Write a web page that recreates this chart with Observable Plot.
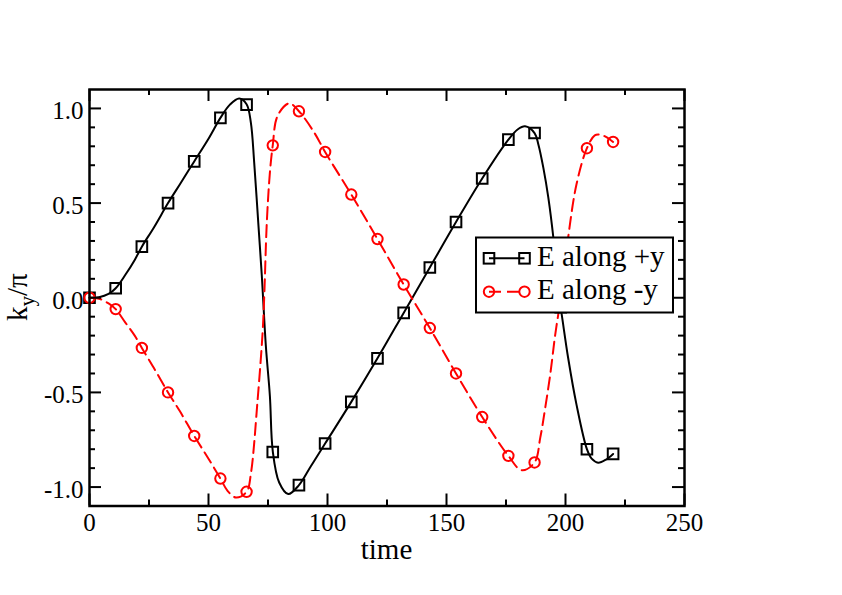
<!DOCTYPE html>
<html>
<head>
<meta charset="utf-8">
<script src="https://cdn.jsdelivr.net/npm/d3@7"></script>
<script src="https://cdn.jsdelivr.net/npm/@observablehq/plot@0.6"></script>
<style>
  html, body { margin: 0; padding: 0; background: #fff; }
</style>
</head>
<body>
<div id="chart"></div>
<script>
// ---- data ----
const markerTime = [0, 11, 22, 33, 44, 55, 66, 77, 88, 99, 110, 121, 132, 143, 154, 165, 176, 187, 198, 209, 220];
const markerPlusY = [0, 0.05, 0.27, 0.50, 0.72, 0.95, 1.02, -0.815, -0.99, -0.77, -0.55, -0.32, -0.08, 0.16, 0.40, 0.63, 0.835, 0.87, -0.05, -0.80, -0.825];
const markerMinusY = [0, -0.06, -0.265, -0.50, -0.73, -0.955, -1.025, 0.805, 0.985, 0.77, 0.545, 0.31, 0.07, -0.16, -0.40, -0.63, -0.835, -0.87, 0.0, 0.79, 0.823];

const curveTimePlus = [0, 4, 8, 11, 15, 19, 22, 27, 33, 38, 44, 50, 55, 59, 62.9, 66, 67.8, 69.2, 70.9, 72.4, 74.1, 75.8, 77, 79.7, 83.5, 88, 93, 99, 110, 121, 132, 143, 154, 165, 176, 180, 183, 187, 188.6, 190.7, 192.8, 194.9, 197.3, 198.4, 201.1, 204.6, 209, 211, 213.7, 217, 220];
const curvePlusY = [0, 0.003, 0.02, 0.05, 0.12, 0.2, 0.27, 0.37, 0.50, 0.6, 0.72, 0.84, 0.95, 1.02, 1.052, 1.022, 0.925, 0.714, 0.398, 0.116, -0.255, -0.52, -0.81, -0.976, -1.037, -0.99, -0.89, -0.77, -0.55, -0.32, -0.08, 0.16, 0.40, 0.63, 0.835, 0.89, 0.906, 0.87, 0.81, 0.686, 0.528, 0.317, 0.0, -0.088, -0.317, -0.563, -0.80, -0.85, -0.871, -0.855, -0.825];

const curveTimeMinus = [0, 4, 8, 11, 15, 19, 22, 27, 33, 38, 44, 50, 55, 58, 61.5, 66, 67.8, 70.6, 72.7, 73.4, 74.5, 75.8, 77, 79, 83.9, 88, 94.4, 99, 110, 121, 132, 143, 154, 165, 176, 181.6, 187, 189.4, 191.5, 193.6, 195.7, 198, 201.1, 204.6, 209, 212.3, 214.4, 217, 220];
const curveMinusY = [0, -0.005, -0.03, -0.06, -0.13, -0.2, -0.265, -0.37, -0.50, -0.6, -0.73, -0.85, -0.955, -1.02, -1.055, -1.025, -0.93, -0.545, -0.19, 0.0, 0.398, 0.662, 0.805, 0.96, 1.027, 0.985, 0.873, 0.77, 0.545, 0.31, 0.07, -0.16, -0.40, -0.63, -0.835, -0.911, -0.87, -0.739, -0.58, -0.404, -0.193, 0.0, 0.317, 0.598, 0.79, 0.858, 0.862, 0.85, 0.823];

const xMajorTicks = [0, 50, 100, 150, 200, 250];
const xMinorTicks = [25, 75, 125, 175, 225];
const yMajorTicks = [-1.0, -0.5, 0.0, 0.5, 1.0];
const yMinorTicks = [-0.9, -0.8, -0.7, -0.6, -0.4, -0.3, -0.2, -0.1, 0.1, 0.2, 0.3, 0.4, 0.6, 0.7, 0.8, 0.9];
const yTickLabels = ["-1.0", "-0.5", "0.0", "0.5", "1.0"];

const seriesNames = ["E along +y", "E along -y"];
const seriesColors = ["#000000", "#ff0000"];

// ---- tables ----
const markersPlus = markerTime.map((t, i) => ({t, v: markerPlusY[i]}));
const markersMinus = markerTime.map((t, i) => ({t, v: markerMinusY[i]}));
const linePlus = curveTimePlus.map((t, i) => ({t, v: curvePlusY[i]}));
const lineMinus = curveTimeMinus.map((t, i) => ({t, v: curveMinusY[i]}));

const W = 842, H = 595;
const mTop = 89, mBottom = 89.5, mLeft = 89, mRight = 158;
const innerW = W - mLeft - mRight, innerH = H - mTop - mBottom;
const majorLen = 12, minorLen = 6;
const font = "'Liberation Serif', 'Times New Roman', serif";

const svg = Plot.plot({
  width: W, height: H,
  marginTop: mTop, marginBottom: mBottom, marginLeft: mLeft, marginRight: mRight,
  style: {fontFamily: font, fontSize: "25px", background: "#fff", color: "#000"},
  x: {domain: [0, 250]},
  y: {domain: [-1.1, 1.1]},
  marks: [
    Plot.line(linePlus, {x: "t", y: "v", stroke: seriesColors[0], strokeWidth: 2, curve: "catmull-rom"}),
    Plot.line(lineMinus, {x: "t", y: "v", stroke: seriesColors[1], strokeWidth: 2, strokeDasharray: "12,6", curve: "catmull-rom"}),
    Plot.dot(markersPlus, {x: "t", y: "v", symbol: "square", r: 6, stroke: seriesColors[0], strokeWidth: 2, fill: "none"}),
    Plot.dot(markersMinus, {x: "t", y: "v", symbol: "circle", r: 5.2, stroke: seriesColors[1], strokeWidth: 2, fill: "none"}),
    // inward ticks on all four sides
    Plot.tickX(xMajorTicks, {x: d => d, insetTop: innerH - majorLen, stroke: "#000", strokeWidth: 2}),
    Plot.tickX(xMajorTicks, {x: d => d, insetBottom: innerH - majorLen, stroke: "#000", strokeWidth: 2}),
    Plot.tickX(xMinorTicks, {x: d => d, insetTop: innerH - minorLen, stroke: "#000", strokeWidth: 2}),
    Plot.tickX(xMinorTicks, {x: d => d, insetBottom: innerH - minorLen, stroke: "#000", strokeWidth: 2}),
    Plot.tickY(yMajorTicks, {y: d => d, insetRight: innerW - majorLen, stroke: "#000", strokeWidth: 2}),
    Plot.tickY(yMajorTicks, {y: d => d, insetLeft: innerW - majorLen, stroke: "#000", strokeWidth: 2}),
    Plot.tickY(yMinorTicks, {y: d => d, insetRight: innerW - minorLen, stroke: "#000", strokeWidth: 2}),
    Plot.tickY(yMinorTicks, {y: d => d, insetLeft: innerW - minorLen, stroke: "#000", strokeWidth: 2}),
    Plot.axisX(xMajorTicks, {tickSize: 0, tickPadding: 7, label: null, fontSize: 25, fontFamily: font, tickFormat: d => String(d)}),
    Plot.axisY(yMajorTicks, {tickSize: 0, tickPadding: 6, dy: 3, label: null, fontSize: 25, fontFamily: font, tickFormat: d => yTickLabels[yMajorTicks.indexOf(d)]}),
    Plot.frame({stroke: "#000", strokeWidth: 2.5})
  ]
});

const s = d3.select(svg);
// serif face and size on the Plot-generated tick labels
s.selectAll("text")
  .style("font-family", font).style("font-size", "25px").style("font-variant", "normal").attr("fill", "#000");

// axis titles
s.append("text")
  .attr("x", mLeft + innerW / 2).attr("y", 559)
  .attr("text-anchor", "middle")
  .style("font-family", font).style("font-size", "29px").attr("fill", "#000")
  .text("time");

const yl = s.append("text")
  .attr("transform", `translate(27,${mTop + innerH / 2}) rotate(-90)`)
  .attr("text-anchor", "middle")
  .style("font-family", font).style("font-size", "29px").attr("fill", "#000");
yl.append("tspan").text("k");
yl.append("tspan").attr("dy", 7).style("font-size", "21px").text("y");
yl.append("tspan").attr("dy", -7).text("/π");

// legend
const lg = s.append("g").attr("text-anchor", "start");
lg.append("rect")
  .attr("x", 476).attr("y", 237.5).attr("width", 197).attr("height", 75)
  .attr("fill", "#fff").attr("stroke", "#000").attr("stroke-width", 2);
const rows = [258.3, 291.7];
seriesNames.forEach((name, i) => {
  const yy = rows[i];
  lg.append("line").attr("x1", 489).attr("x2", 524.5).attr("y1", yy).attr("y2", yy)
    .attr("stroke", seriesColors[i]).attr("stroke-width", 2)
    .attr("stroke-dasharray", i === 1 ? "12,6" : null);
  [489, 524.5].forEach(cx => {
    if (i === 0) {
      lg.append("rect").attr("x", cx - 5.3).attr("y", yy - 5.3).attr("width", 10.6).attr("height", 10.6)
        .attr("fill", "none").attr("stroke", seriesColors[i]).attr("stroke-width", 2);
    } else {
      lg.append("circle").attr("cx", cx).attr("cy", yy).attr("r", 5.2)
        .attr("fill", "none").attr("stroke", seriesColors[i]).attr("stroke-width", 2);
    }
  });
  lg.append("text").attr("x", 537).attr("y", yy + 7.5)
    .attr("text-anchor", "start")
    .style("font-family", font).style("font-size", "29px").attr("fill", "#000")
    .text(name);
});

document.getElementById("chart").appendChild(svg);
</script>
</body>
</html>
